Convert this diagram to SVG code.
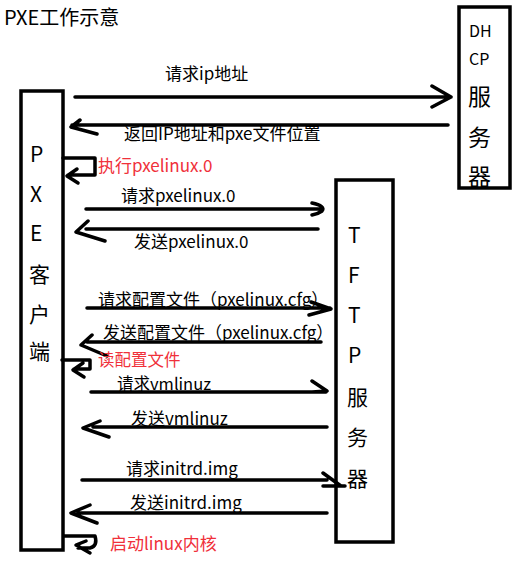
<svg xmlns="http://www.w3.org/2000/svg" width="529" height="568" viewBox="0 0 529 568">
<style>
text{font-family:"Microsoft YaHei","Noto Sans CJK SC","Noto Sans",sans-serif;fill:#000}
.lbl{font-size:17px}
.red{font-size:17px;fill:#f0303a}
.big{font-size:21px}
.box{fill:none;stroke:#000;stroke-width:3.5}
.ln{fill:none;stroke:#000;stroke-width:3.5;stroke-linecap:round;stroke-linejoin:round}
</style>
<rect width="529" height="568" fill="#fff"/>
<text x="4" y="25" style="font-size:20px">PXE工作示意</text>

<g id="pxe-client">
<rect class="box" x="21" y="91" width="42" height="459"/>
<text class="big" x="30" y="162">P</text>
<text class="big" x="30" y="202">X</text>
<text class="big" x="30" y="241">E</text>
<text class="big" x="29" y="282">客</text>
<text class="big" x="29" y="322">户</text>
<text class="big" x="29" y="359">端</text>
</g>

<g id="dhcp-server">
<rect class="box" x="459" y="7" width="51" height="181"/>
<text x="469" y="37" style="font-size:16px">DH</text>
<text x="469" y="65" style="font-size:16px">CP</text>
<text x="468" y="105" style="font-size:23px">服</text>
<text x="468" y="146" style="font-size:23px">务</text>
<text x="468" y="185" style="font-size:23px">器</text>
</g>

<g id="tftp-server">
<rect class="box" x="336" y="180" width="57" height="362"/>
<text class="big" x="348" y="243">T</text>
<text class="big" x="348" y="283">F</text>
<text class="big" x="348" y="323">T</text>
<text class="big" x="348" y="363">P</text>
<text class="big" x="347" y="405">服</text>
<text class="big" x="347" y="445">务</text>
<text class="big" x="347" y="486">器</text>
</g>

<g id="connectors">
<path class="ln" d="M75 97H450M432 86L451 97L432 107"/>
<path class="ln" d="M72 125H448M80 120L71 127L97 134"/>
<path class="ln" d="M63 158H95V175H68M77 169L67 176L78 183"/>
<path class="ln" d="M86 209H322M312 203Q326 206 322 211Q318 214 312 215"/>
<path class="ln" d="M86 229H318M88 221L76 232L105 241"/>
<path class="ln" d="M87 308H330M311 302L331 309L309 315"/>
<path class="ln" d="M87 342H321M92 335L81 345L107 356"/>
<path class="ln" d="M62 360H90V369H74M83 363L73 370L84 377"/>
<path class="ln" d="M91 392H326M312 381L327 391L312 392"/>
<path class="ln" d="M93 427H327M100 421L83 428L109 437"/>
<path class="ln" d="M82 480H327M323 473L341 486M323 486H345"/>
<path class="ln" d="M78 513H327M90 505L71 513L97 523"/>
<path class="ln" d="M64 536H95Q98 546 90 548H78M86 541L76 545L90 553"/>
</g>

<g id="labels">
<text class="lbl" x="165" y="80">请求ip地址</text>
<text class="lbl" x="124" y="140">返回IP地址和pxe文件位置</text>
<text class="red" x="98" y="172">执行pxelinux.0</text>
<text class="lbl" x="121" y="202">请求pxelinux.0</text>
<text class="lbl" x="134" y="248">发送pxelinux.0</text>
<text class="lbl" x="98" y="306">请求配置文件（pxelinux.cfg）</text>
<text class="lbl" x="103" y="339">发送配置文件（pxelinux.cfg）</text>
<text class="red" x="98" y="366" style="font-size:16.5px">读配置文件</text>
<text class="lbl" x="117" y="390" style="font-size:16.5px">请求vmlinuz</text>
<text class="lbl" x="131" y="425">发送vmlinuz</text>
<text class="lbl" x="126" y="475">请求initrd.img</text>
<text class="lbl" x="130" y="509">发送initrd.img</text>
<text class="red" x="110" y="550">启动linux内核</text>
</g>
</svg>
